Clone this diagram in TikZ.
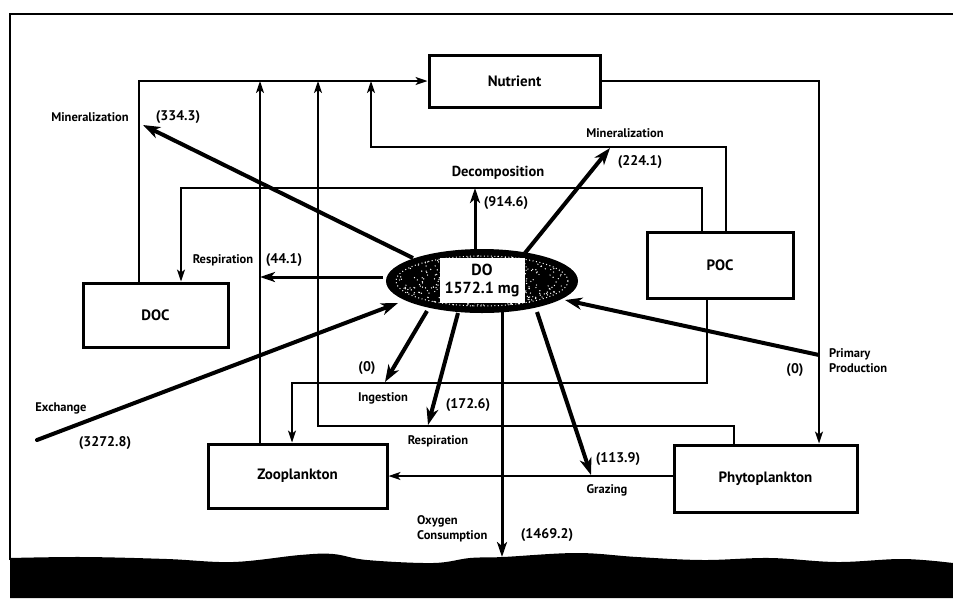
\documentclass[tikz,border=0pt]{standalone}
\usepackage{fontspec}
\setmainfont{PT Sans}
\usetikzlibrary{arrows.meta,shapes.geometric}
\begin{document}
\begin{tikzpicture}[x=1pt,y=-1pt,
  box/.style={draw, line width=3pt, inner sep=0pt, font=\bfseries\fontsize{15}{17}\selectfont},
  link/.style={line width=1.5pt, line join=miter},
  tip/.style={link, -{Stealth[length=12pt,width=8pt,inset=3pt]}},
  flow/.style={line width=4pt, -{Stealth[length=17pt,width=12pt,inset=5pt]}},
  flowm/.style={line width=3pt, -{Stealth[length=15pt,width=10pt,inset=4pt]}},
  lbl/.style={font=\bfseries\fontsize{12.5}{15}\selectfont, inner sep=0pt},
  num/.style={font=\bfseries\fontsize{14}{16}\selectfont, inner sep=0pt}]
\useasboundingbox (0,0) rectangle (953,598);
\fill[white] (0,0) rectangle (953,598);

% frame
\draw[line width=1.5pt] (10,560) -- (10,14) -- (953,14);

% ground
\fill[black] (10,558) plot[smooth, tension=0.6] coordinates {(10,558) (83,557) (167,559) (233,562) (300,555) (333,554) (367,560) (433,563) (470,558) (503,557) (577,553) (637,557) (703,560) (770,558) (837,562) (903,559) (953,563)} -- (953,598) -- (10,598) -- cycle;

% boxes
\node[box, minimum width=171pt, minimum height=52pt] (nut) at (514.5,81) {Nutrient};
\node[box, minimum width=145pt, minimum height=64pt] (doc) at (155.5,315) {DOC};
\node[box, minimum width=146pt, minimum height=66pt] (poc) at (720,265) {POC};
\node[box, minimum width=179pt, minimum height=64pt] (zoo) at (297.5,476) {Zooplankton};
\node[box, minimum width=183pt, minimum height=67pt] (phy) at (765.5,478.5) {Phytoplankton};

% DO ellipse with speckled texture
\node[ellipse, fill=black, draw=black, line width=2pt, minimum width=190pt, minimum height=62pt, inner sep=0pt] (do) at (482,281) {};
\draw[white, line width=1pt, dash pattern=on 1pt off 2.5pt] (do.center) ellipse [x radius=86pt, y radius=25pt];
\pgfmathsetseed{7}
\foreach \i in {1,...,260} {
  \pgfmathsetmacro\ang{rnd*360}
  \pgfmathsetmacro\rad{0.25+0.7*sqrt(rnd)}
  \pgfmathsetmacro\px{482+88*\rad*cos(\ang)}
  \pgfmathsetmacro\py{281+27*\rad*sin(\ang)}
  \fill[white] (\px,\py) circle (0.7pt);
}
\node[fill=white, minimum width=85pt, minimum height=45pt, inner sep=0pt, align=center,
  font=\bfseries\fontsize{16}{18}\selectfont] (dolbl) at (482,280) {DO\\1572.1 mg};

% thin connectors
\draw[tip] (doc.north -| 139,0) -- (139,81) -- (nut.west);
\draw[tip] (zoo.north -| 260,0) -- (260,81);
\draw[tip] (phy.north -| 734,0) -- (734,426) -- (318,426) -- (318,81);
\draw[tip] (poc.north -| 726,0) -- (726,147) -- (371,147) -- (371,81);
\draw[tip] (nut.east) -- (819,81) -- (phy.north -| 819,0);
\draw[tip] (poc.north -| 702,0) -- (702,188) -- (181,188) -- (doc.north -| 181,0);
\draw[tip] (poc.south -| 707,0) -- (707,383) -- (292,383) -- (zoo.north -| 292,0);
\draw[tip] (phy.west |- 0,476) -- (zoo.east |- 0,476);

% named free ends
\coordinate (sMinA) at (413,258);  \coordinate (eMinA) at (143,125);
\coordinate (sResA) at (383,277);  \coordinate (eResA) at (260,277);
\coordinate (sDec)  at (475,251);  \coordinate (eDec)  at (475,188);
\coordinate (sMinB) at (525,253);  \coordinate (eMinB) at (610,148);
\coordinate (sExc)  at (37,440);   \coordinate (eExc)  at (398,303);
\coordinate (sPri)  at (819,355);  \coordinate (ePri)  at (565,300);
\coordinate (sIng)  at (427,311);  \coordinate (eIng)  at (385,382);
\coordinate (sResB) at (458,313);  \coordinate (eResB) at (428,425);
\coordinate (sOxy)  at (502,312);  \coordinate (eOxy)  at (502,557);
\coordinate (sGra)  at (537,312);  \coordinate (eGra)  at (591,475);

% thick flows
\draw[flow] (sMinA) -- (eMinA);
\draw[flowm] (sResA) -- (eResA);
\draw[flowm] (sDec) -- (eDec);
\draw[flow] (sMinB) -- (eMinB);
\draw[flow, line cap=round] (sExc) -- (eExc);
\draw[flow] (sPri) -- (ePri);
\draw[flow] (sIng) -- (eIng);
\draw[flow] (sResB) -- (eResB);
\draw[flowm] (sOxy) -- (eOxy);
\draw[flow] (sGra) -- (eGra);

% labels
\node[lbl] (tMinA) at (90,117) {Mineralization};
\node[num] (nMinA) at (178,117) {(334.3)};
\node[lbl] (tMinB) at (625,133) {Mineralization};
\node[num] (nMinB) at (640,162) {(224.1)};
\node[lbl, font=\bfseries\fontsize{14.5}{16}\selectfont] (tDec) at (498,173) {Decomposition};
\node[num] (nDec) at (506,203) {(914.6)};
\node[lbl] (tResA) at (223,260) {Respiration};
\node[num] (nResA) at (284,260) {(44.1)};
\node[lbl] (tExc) at (61,408) {Exchange};
\node[num] (nExc) at (105,443) {(3272.8)};
\node[num] (nIng) at (367,368) {(0)};
\node[lbl] (tIng) at (383,398) {Ingestion};
\node[num] (nResB) at (468,405) {(172.6)};
\node[lbl] (tResB) at (438,441) {Respiration};
\node[num] (nGra) at (618,459) {(113.9)};
\node[lbl] (tGra) at (607,490) {Grazing};
\node[lbl, anchor=west, align=left] (tOxy) at (417,528.5) {Oxygen\\Consumption};
\node[num] (nOxy) at (547,535) {(1469.2)};
\node[num] (nPri) at (795,370) {(0)};
\node[lbl, anchor=west, align=left] (tPri) at (829,361) {Primary\\Production};
\end{tikzpicture}
\end{document}
